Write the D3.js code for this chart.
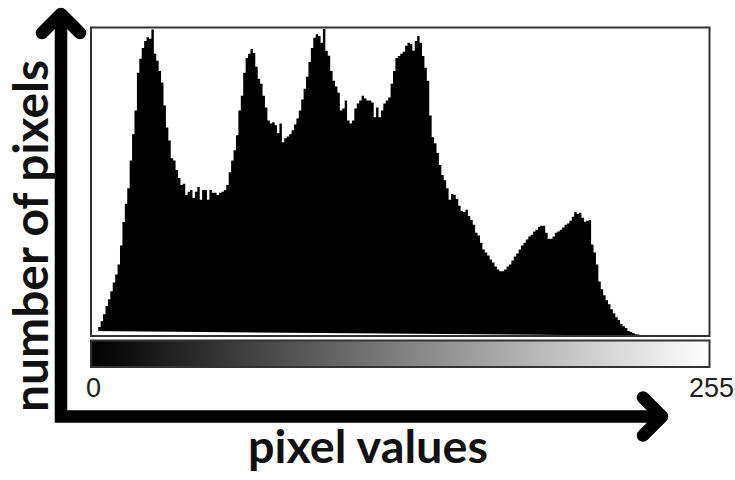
<!DOCTYPE html>
<html>
<head>
<meta charset="utf-8">
<script src="https://cdn.jsdelivr.net/npm/d3@7/dist/d3.min.js"></script>
<style>
  html, body { margin: 0; padding: 0; background: #fff; }
  svg { display: block; }
</style>
</head>
<body>
<svg id="chart" width="735" height="480"></svg>
<script>
// ---- data ----
const pixelValues = d3.range(256); // categories 0..255
const pixelCounts = [
  1.6, 1.6, 1.6, 2.9, 4.8, 7.1, 9.7, 11.9, 14.5, 17.4,
  20.0, 23.2, 29.4, 37.0, 42.9, 48.0, 57.0, 65.5, 73.2, 85.5,
  90.0, 93.5, 95.8, 97.0, 96.5, 99.5, 91.6, 89.4, 86.0, 82.3,
  74.8, 67.7, 63.5, 57.7, 57.0, 53.9, 51.3, 49.0, 49.4, 45.8,
  46.8, 47.4, 44.8, 46.8, 48.4, 44.2, 47.4, 47.4, 44.2, 47.4,
  46.5, 46.5, 45.8, 46.5, 46.8, 47.4, 49.0, 53.2, 57.0, 60.3,
  65.2, 73.2, 78.0, 85.5, 90.3, 91.6, 93.2, 91.9, 87.4, 83.5,
  81.9, 78.0, 74.2, 70.0, 69.0, 69.4, 68.4, 65.8, 69.0, 62.9,
  64.2, 64.8, 65.5, 66.8, 68.7, 70.6, 73.2, 76.8, 80.3, 84.2,
  89.0, 93.5, 96.8, 98.0, 97.4, 95.2, 99.7, 92.6, 91.0, 86.0,
  82.9, 81.0, 79.0, 73.2, 73.9, 76.5, 70.0, 69.0, 70.0, 73.9,
  75.5, 76.5, 78.0, 77.1, 76.5, 76.5, 75.8, 71.0, 74.2, 71.0,
  73.2, 75.5, 76.5, 77.4, 81.9, 86.0, 90.3, 90.9, 91.6, 92.3,
  94.2, 95.2, 94.8, 92.6, 95.8, 97.4, 95.2, 90.9, 87.1, 82.9,
  71.6, 64.5, 62.6, 59.4, 55.5, 52.3, 50.6, 48.0, 44.2, 46.1,
  45.8, 44.5, 42.3, 40.6, 40.3, 41.0, 39.0, 37.7, 36.1, 33.5,
  32.6, 30.3, 28.1, 27.1, 26.1, 24.8, 23.9, 22.6, 21.6, 21.0,
  21.0, 21.6, 22.6, 23.2, 24.5, 25.8, 26.8, 28.1, 29.4, 30.3,
  31.3, 32.3, 32.9, 33.9, 34.5, 35.5, 35.8, 35.8, 33.5, 31.6,
  31.6, 32.3, 33.5, 33.9, 34.5, 35.2, 36.1, 36.5, 37.4, 38.7,
  40.3, 39.7, 40.0, 38.4, 37.1, 37.4, 37.7, 29.7, 27.1, 23.2,
  17.7, 15.2, 13.2, 11.6, 10.3, 8.7, 7.4, 6.1, 5.2, 3.9,
  3.2, 2.6, 1.6, 1.3, 1.0, 0.6, 0.5, 0.3, 0.3, 0.1,
  0.1, 0, 0, 0, 0, 0, 0, 0, 0, 0,
  0, 0, 0, 0, 0, 0
];
const tickLabels = ["0", "255"];
const tickValues = [0, 255];
const xTitle = "pixel values";
const yTitle = "number of pixels";

// ---- layout ----
const svg = d3.select("#chart");
const box = { left: 91, right: 709.5, top: 27.5, bottom: 336 };
const bar = { top: 340.5, bottom: 367 };

const x = d3.scaleLinear().domain([0, 256]).range([box.left, box.right]);
const y = d3.scaleLinear().domain([0, 100]).range([box.bottom, box.top + 0.5]);

// histogram
const pts = pixelValues.map(i => ({ i, v: pixelCounts[i] }));
pts.push({ i: 256, v: pixelCounts[255] });
const area = d3.area()
  .curve(d3.curveStepAfter)
  .x(d => x(d.i))
  .y0(box.bottom)
  .y1(d => y(Math.min(d.v, 100)));
svg.append("path").datum(pts).attr("d", area).attr("fill", "#000");

// plot frame
svg.append("rect")
  .attr("x", box.left).attr("y", box.top)
  .attr("width", box.right - box.left).attr("height", box.bottom - box.top)
  .attr("fill", "none").attr("stroke", "#333").attr("stroke-width", 2);

// gradient bar
const defs = svg.append("defs");
const grad = defs.append("linearGradient").attr("id", "gray").attr("x1", "0%").attr("x2", "100%");
grad.append("stop").attr("offset", "0%").attr("stop-color", "#000");
grad.append("stop").attr("offset", "100%").attr("stop-color", "#fff");
svg.append("rect")
  .attr("x", box.left).attr("y", bar.top)
  .attr("width", box.right - box.left).attr("height", bar.bottom - bar.top)
  .attr("fill", "url(#gray)").attr("stroke", "#333").attr("stroke-width", 2);

// tick labels
const tickX = d3.scaleLinear().domain([0, 255]).range([86, 734]);
svg.selectAll("text.tick").data(tickValues).enter().append("text")
  .attr("class", "tick")
  .attr("x", d => tickX(d))
  .attr("y", 397)
  .attr("text-anchor", (d, k) => k === 0 ? "start" : "end")
  .attr("font-family", "Liberation Sans, Arial, sans-serif")
  .attr("font-size", 27)
  .attr("fill", "#222")
  .text((d, k) => tickLabels[k]);

// arrows
const ax = { x: 61, yTop: 14, yAxis: 416.5, xEnd: 662 };
svg.append("path")
  .attr("d", `M${ax.x},${ax.yTop} L${ax.x},${ax.yAxis} L${ax.xEnd},${ax.yAxis}`)
  .attr("fill", "none").attr("stroke", "#000").attr("stroke-width", 12.5)
  .attr("stroke-linejoin", "miter").attr("stroke-linecap", "butt");
const h = 19;
svg.append("path")
  .attr("d", `M${ax.x - h},${ax.yTop + h} L${ax.x},${ax.yTop} L${ax.x + h},${ax.yTop + h}`)
  .attr("fill", "none").attr("stroke", "#000").attr("stroke-width", 12.5)
  .attr("stroke-linejoin", "round").attr("stroke-linecap", "round");
svg.append("path")
  .attr("d", `M${ax.xEnd - h},${ax.yAxis - h} L${ax.xEnd},${ax.yAxis} L${ax.xEnd - h},${ax.yAxis + h}`)
  .attr("fill", "none").attr("stroke", "#000").attr("stroke-width", 12.5)
  .attr("stroke-linejoin", "round").attr("stroke-linecap", "round");

// titles (sized to fit their measured extents)
function fitText(sel, target) {
  const w = sel.node().getComputedTextLength();
  const fs = parseFloat(sel.attr("font-size"));
  sel.attr("font-size", fs * target / w);
}
const xt = svg.append("text")
  .attr("x", 368).attr("y", 463)
  .attr("text-anchor", "middle")
  .attr("font-family", "Lato, 'Open Sans', sans-serif")
  .attr("font-weight", 700)
  .attr("font-size", 40)
  .attr("fill", "#111")
  .text(xTitle);
fitText(xt, 240);
const yt = svg.append("text")
  .attr("transform", "translate(48,236) rotate(-90)")
  .attr("text-anchor", "middle")
  .attr("font-family", "Lato, 'Open Sans', sans-serif")
  .attr("font-weight", 700)
  .attr("font-size", 44)
  .attr("fill", "#111")
  .text(yTitle);
fitText(yt, 352);
</script>
</body>
</html>
